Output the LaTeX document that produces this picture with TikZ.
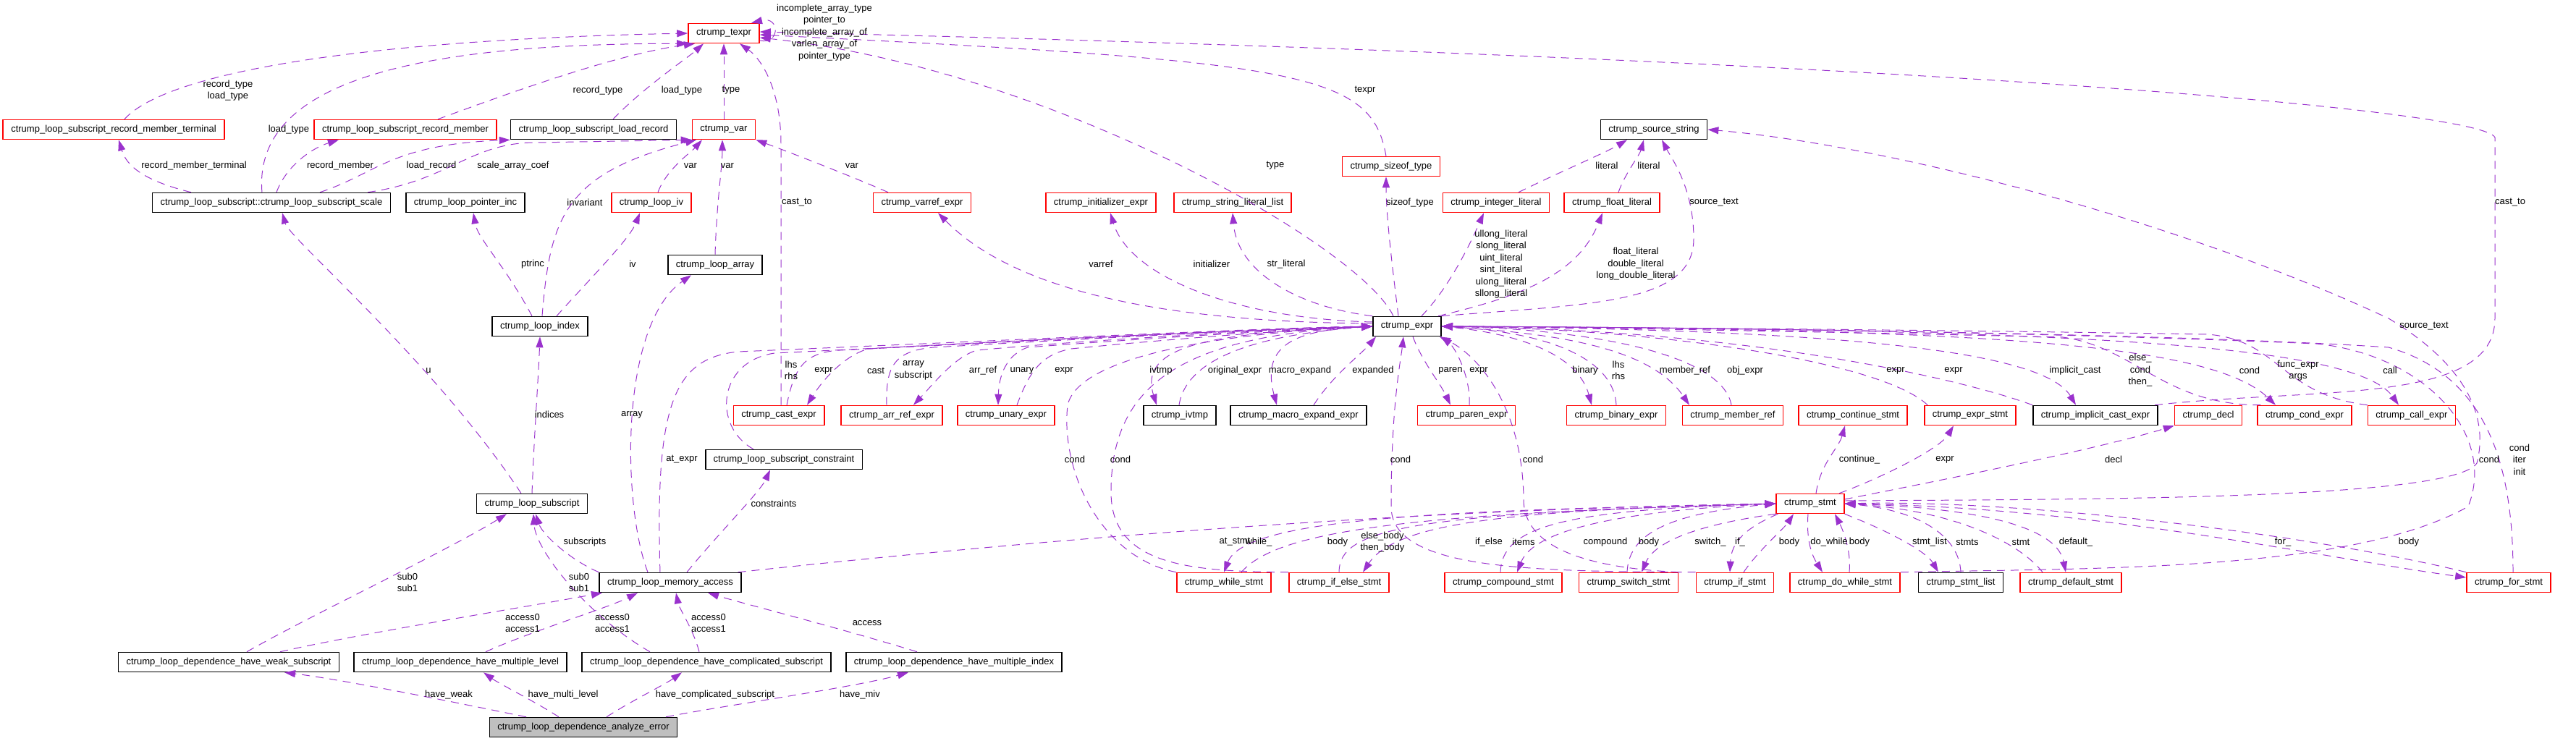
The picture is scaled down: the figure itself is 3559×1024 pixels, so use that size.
\documentclass[tikz,border=0pt]{standalone}
\usepackage{fontspec}
\setmainfont{Liberation Sans}
\usetikzlibrary{arrows.meta}
\definecolor{relcol}{RGB}{154,50,205}
\definecolor{errgray}{RGB}{191,191,191}
\tikzset{
  cls/.style={draw=black,line width=0.45pt,fill=white,minimum height=0.27cm,inner xsep=0.11cm,inner ysep=0pt,font=\fontsize{3.7pt}{4.7pt}\selectfont},
  redcls/.style={cls,draw=red},
  rel/.style={draw=relcol,line width=0.28pt,dash pattern=on 0.11cm off 0.08cm,-{Triangle[length=0.15cm,width=0.1cm]}},
  lbl/.style={inner sep=0pt,align=center,font=\fontsize{3.7pt}{4.7pt}\selectfont}
}
\begin{document}
\begin{tikzpicture}[x=0.01cm,y=-0.01cm]
    \useasboundingbox (0,0) rectangle (3559,1024);

    % classes
    \node[redcls] (texpr) at (1000,46) {ctrump\_texpr};
    \node[redcls] (rmt) at (157,179) {ctrump\_loop\_subscript\_record\_member\_terminal};
    \node[redcls] (rm) at (560,179) {ctrump\_loop\_subscript\_record\_member};
    \node[cls] (lrec) at (820,179) {ctrump\_loop\_subscript\_load\_record};
    \node[redcls] (var) at (1000,179) {ctrump\_var};
    \node[cls] (srcstr) at (2285,179) {ctrump\_source\_string};
    \node[redcls] (sizeof) at (1922,230) {ctrump\_sizeof\_type};
    \node[cls] (scale) at (375,280) {ctrump\_loop\_subscript::ctrump\_loop\_subscript\_scale};
    \node[cls] (ptrinc) at (643,280) {ctrump\_loop\_pointer\_inc};
    \node[redcls] (liv) at (900,280) {ctrump\_loop\_iv};
    \node[redcls] (varref) at (1274,280) {ctrump\_varref\_expr};
    \node[redcls] (init) at (1521,280) {ctrump\_initializer\_expr};
    \node[redcls] (strlit) at (1703,280) {ctrump\_string\_literal\_list};
    \node[redcls] (intlit) at (2067,280) {ctrump\_integer\_literal};
    \node[redcls] (fltlit) at (2227,280) {ctrump\_float\_literal};
    \node[cls] (larr) at (988,366) {ctrump\_loop\_array};
    \node[cls] (lidx) at (746,451) {ctrump\_loop\_index};
    \node[cls] (expr) at (1944,451) {ctrump\_expr};
    \node[redcls] (cast) at (1076,574) {ctrump\_cast\_expr};
    \node[redcls] (arrref) at (1232,574) {ctrump\_arr\_ref\_expr};
    \node[redcls] (unary) at (1390,574) {ctrump\_unary\_expr};
    \node[cls] (ivtmp) at (1630,574) {ctrump\_ivtmp};
    \node[cls] (macro) at (1794,574) {ctrump\_macro\_expand\_expr};
    \node[redcls] (paren) at (2026,574) {ctrump\_paren\_expr};
    \node[redcls] (binary) at (2233,574) {ctrump\_binary\_expr};
    \node[redcls] (mref) at (2394,574) {ctrump\_member\_ref};
    \node[redcls] (cont) at (2560,574) {ctrump\_continue\_stmt};
    \node[redcls] (estmt) at (2722,574) {ctrump\_expr\_stmt};
    \node[cls] (icast) at (2895,574) {ctrump\_implicit\_cast\_expr};
    \node[redcls] (decl) at (3051,574) {ctrump\_decl};
    \node[redcls] (cexpr) at (3184,574) {ctrump\_cond\_expr};
    \node[redcls] (call) at (3332,574) {ctrump\_call\_expr};
    \node[cls] (cons) at (1083,635) {ctrump\_loop\_subscript\_constraint};
    \node[cls] (lsub) at (735,696) {ctrump\_loop\_subscript};
    \node[redcls] (stmt) at (2501,696) {ctrump\_stmt};
    \node[cls] (lma) at (926,805) {ctrump\_loop\_memory\_access};
    \node[redcls] (while) at (1691,805) {ctrump\_while\_stmt};
    \node[redcls] (ifelse) at (1850,805) {ctrump\_if\_else\_stmt};
    \node[redcls] (comp) at (2077,805) {ctrump\_compound\_stmt};
    \node[redcls] (switch) at (2250,805) {ctrump\_switch\_stmt};
    \node[redcls] (ifs) at (2397,805) {ctrump\_if\_stmt};
    \node[redcls] (dowhile) at (2549,805) {ctrump\_do\_while\_stmt};
    \node[cls] (slist) at (2709,805) {ctrump\_stmt\_list};
    \node[redcls] (dflt) at (2861,805) {ctrump\_default\_stmt};
    \node[redcls] (for) at (3466,805) {ctrump\_for\_stmt};
    \node[cls] (weak) at (316,915) {ctrump\_loop\_dependence\_have\_weak\_subscript};
    \node[cls] (mlevel) at (636,915) {ctrump\_loop\_dependence\_have\_multiple\_level};
    \node[cls] (compl) at (976,915) {ctrump\_loop\_dependence\_have\_complicated\_subscript};
    \node[cls] (mindex) at (1318,915) {ctrump\_loop\_dependence\_have\_multiple\_index};
    \node[cls,fill=errgray] (err) at (806,1005) {ctrump\_loop\_dependence\_analyze\_error};

    % into texpr
    \draw[rel] ([xshift=0.15cm]rmt.north) .. controls (230,100) and (500,55) .. (texpr.west);
    \draw[rel] ([xshift=-0.13cm]scale.north) .. controls (350,120) and (550,60) .. (texpr.south west);
    \draw[rel] ([xshift=0.45cm]rm.north) .. controls (700,130) and (850,75) .. ([xshift=-0.4cm]texpr.south);
    \draw[rel] ([xshift=0.27cm]lrec.north) .. controls (890,120) and (950,80) .. ([xshift=-0.28cm]texpr.south);
    \draw[rel] (var.north) -- (texpr.south);
    \draw[rel] ([xshift=0.03cm]cast.north) -- (1079,200) .. controls (1079,120) and (1050,80) .. ([xshift=0.22cm]texpr.south);
    \draw[rel] ([xshift=-0.19cm]expr.north) .. controls (1880,340) and (1450,95) .. ([yshift=-0.06cm]texpr.east);
    \draw[rel] ([yshift=-0.1cm]texpr.east) .. controls (1078,62) and (1078,22) .. ([xshift=0.38cm]texpr.north);
    \draw[rel] ([xshift=-0.07cm]sizeof.north) .. controls (1895,100) and (1800,85) .. ([yshift=-0.02cm]texpr.east);
    \draw[rel] ([xshift=-0.05cm]icast.north east) .. controls (3200,535) and (3447,560) .. (3447,440) -- (3447,190) .. controls (3430,150) and (2600,80) .. ([yshift=0.02cm]texpr.east);

    % into var and load record
    \draw[rel] ([xshift=-0.32cm]scale.north east) .. controls (620,250) and (650,197) .. (740,197) -- (var.south west);
    \draw[rel] ([xshift=0.67cm]scale.north) .. controls (520,240) and (540,200) .. (lrec.south west);
    \draw[rel] ([xshift=0.03cm]lidx.north) .. controls (760,300) and (780,240) .. ([xshift=-0.38cm]var.south);
    \draw[rel] ([xshift=0.09cm]liv.north) .. controls (920,235) and (955,210) .. ([xshift=-0.3cm]var.south);
    \draw[rel] (larr.north) .. controls (990,280) and (998,230) .. ([xshift=-0.02cm]var.south);
    \draw[rel] ([xshift=-0.47cm]varref.north) .. controls (1180,245) and (1090,210) .. (var.south east);

    % loop subscript side
    \draw[rel] ([xshift=-1.11cm]scale.north) .. controls (200,250) and (175,230) .. ([xshift=0.07cm]rmt.south);
    \draw[rel] ([xshift=0.07cm]scale.north) .. controls (395,230) and (430,205) .. ([xshift=-0.92cm]rm.south);
    \draw[rel] ([xshift=-0.15cm]lsub.north) .. controls (600,500) and (400,330) .. ([xshift=0.15cm]scale.south);
    \draw[rel] ([xshift=-0.11cm]lidx.north) .. controls (700,370) and (660,330) .. ([xshift=0.11cm]ptrinc.south);
    \draw[rel] ([xshift=0.23cm]lidx.north) .. controls (820,380) and (870,330) .. ([xshift=-0.16cm]liv.south);
    \draw[rel] (lsub.north) .. controls (738,600) and (744,520) .. (lidx.south);
    \draw[rel] ([xshift=-0.31cm]lma.north) .. controls (860,700) and (855,450) .. ([xshift=-0.33cm]larr.south);
    \draw[rel] ([xshift=0.25cm]weak.north) .. controls (430,850) and (620,760) .. ([xshift=-0.35cm]lsub.south);
    \draw[rel] (lma.north west) .. controls (790,775) and (750,740) .. ([xshift=0.05cm]lsub.south);
    \draw[rel] ([xshift=-0.78cm]compl.north) .. controls (810,850) and (740,760) .. ([xshift=0.02cm]lsub.south);

    % into memory access
    \draw[rel] ([xshift=0.71cm]weak.north) .. controls (500,875) and (720,840) .. ([xshift=-0.94cm]lma.south);
    \draw[rel] ([xshift=0.35cm]mlevel.north) .. controls (740,870) and (840,840) .. ([xshift=-0.45cm]lma.south);
    \draw[rel] ([xshift=-0.1cm]compl.north) .. controls (958,870) and (938,840) .. ([xshift=0.08cm]lma.south);
    \draw[rel] ([xshift=-0.51cm]mindex.north) .. controls (1150,865) and (1030,835) .. ([xshift=0.52cm]lma.south);
    \draw[rel] ([xshift=0.23cm]lma.north) .. controls (990,740) and (1050,680) .. ([xshift=-0.19cm]cons.south);

    % from analyze error
    \draw[rel] ([xshift=-0.79cm]err.north) .. controls (650,975) and (480,940) .. ([xshift=0.77cm]weak.south);
    \draw[rel] ([xshift=-0.34cm]err.north) .. controls (740,970) and (690,945) .. ([xshift=0.32cm]mlevel.south);
    \draw[rel] ([xshift=0.32cm]err.north) .. controls (870,970) and (920,945) .. ([xshift=-0.34cm]compl.south);
    \draw[rel] ([xshift=1.14cm]err.north) .. controls (1000,975) and (1180,950) .. ([xshift=-0.63cm]mindex.south);

    % expr, left side
    \draw[rel] ([xshift=-0.14cm]lma.north) .. controls (905,560) and (930,495) .. (1020,486) .. controls (1400,470) and (1750,453) .. (expr.west);
    \draw[rel] ([xshift=-0.42cm]cons.north) .. controls (985,590) and (990,500) .. (1070,488) .. controls (1400,472) and (1750,453) .. (expr.west);
    \draw[rel] ([xshift=0.11cm]cast.north) .. controls (1097,510) and (1110,487) .. (1160,484) .. controls (1450,470) and (1750,454) .. (expr.west);
    \draw[rel] (expr.west) .. controls (1750,455) and (1400,470) .. (1200,482) .. controls (1170,490) and (1140,520) .. ([xshift=0.39cm]cast.north);
    \draw[rel] ([xshift=-0.07cm]arrref.north) .. controls (1224,510) and (1232,485) .. (1290,480) .. controls (1500,468) and (1750,455) .. (expr.west);
    \draw[rel] (expr.west) .. controls (1750,456) and (1500,470) .. (1350,484) .. controls (1320,492) and (1290,530) .. ([xshift=0.3cm]arrref.north);
    \draw[rel] (expr.west) .. controls (1750,457) and (1550,470) .. (1420,480) .. controls (1390,490) and (1380,520) .. ([xshift=-0.11cm]unary.north);
    \draw[rel] ([xshift=0.15cm]unary.north) .. controls (1420,520) and (1435,490) .. (1480,482) .. controls (1600,470) and (1780,456) .. (expr.west);
    \draw[rel] (while.north west) .. controls (1520,770) and (1465,650) .. (1475,560) .. controls (1490,490) and (1700,460) .. (expr.west);
    \draw[rel] (ifelse.north west) .. controls (1640,790) and (1535,780) .. (1535,680) .. controls (1535,540) and (1620,465) .. (expr.west);
    \draw[rel] (expr.west) .. controls (1700,460) and (1570,470) .. ([xshift=-0.32cm]ivtmp.north);
    \draw[rel] ([xshift=-0.01cm]ivtmp.north) .. controls (1640,490) and (1750,462) .. (expr.west);
    \draw[rel] (expr.west) .. controls (1800,455) and (1740,470) .. ([xshift=-0.3cm]macro.north);
    \draw[rel] ([xshift=0.21cm]macro.north) .. controls (1840,520) and (1880,490) .. ([xshift=0.05cm]expr.south west);

    % expr, below
    \draw[rel] (ifs.north west) .. controls (2100,790) and (1922,785) .. (1922,700) .. controls (1922,560) and (1935,500) .. ([xshift=-0.05cm]expr.south);
    \draw[rel] (switch.north east) .. controls (2200,785) and (2105,760) .. (2105,690) .. controls (2104,560) and (2040,490) .. ([xshift=-0.03cm]expr.south east);
    \draw[rel] ([xshift=0.08cm]expr.south) .. controls (1965,500) and (1990,530) .. ([xshift=-0.22cm]paren.north);
    \draw[rel] ([xshift=0.04cm]paren.north) .. controls (2032,520) and (2010,480) .. ([xshift=-0.01cm]expr.south east);

    % expr, right side
    \draw[rel] (expr.east) .. controls (2100,460) and (2180,490) .. ([xshift=-0.34cm]binary.north);
    \draw[rel] (binary.north) .. controls (2230,500) and (2150,460) .. (expr.east);
    \draw[rel] (expr.east) .. controls (2150,460) and (2280,480) .. ([xshift=-0.6cm]mref.north);
    \draw[rel] ([xshift=-0.02cm]mref.north) .. controls (2380,490) and (2200,455) .. (expr.east);
    \draw[rel] ([xshift=0.05cm]estmt.north west) .. controls (2600,500) and (2300,455) .. (expr.east);
    \draw[rel] (icast.north west) .. controls (2700,520) and (2400,455) .. (expr.east);
    \draw[rel] (expr.east) .. controls (2500,455) and (2820,480) .. ([xshift=-0.27cm]icast.north);
    \draw[rel] ([xshift=0.05cm]cexpr.north west) .. controls (2990,560) and (2950,480) .. (2850,466) .. controls (2500,458) and (2150,452) .. (expr.east);
    \draw[rel] (expr.east) .. controls (2700,455) and (3050,470) .. ([xshift=-0.4cm]cexpr.north);
    \draw[rel] (call.north west) .. controls (3150,545) and (3150,470) .. (3050,462) .. controls (2700,456) and (2200,452) .. (expr.east);
    \draw[rel] (expr.east) .. controls (2800,455) and (3250,470) .. ([xshift=-0.18cm]call.north);
    \draw[rel] ([xshift=0.06cm]for.north) .. controls (3472,650) and (3440,520) .. (3300,480) .. controls (3000,460) and (2300,452) .. (expr.east);
    \draw[rel] (dowhile.north east) .. controls (2900,785) and (3250,790) .. (3410,700) .. controls (3450,600) and (3350,490) .. (3200,475) .. controls (2800,458) and (2300,452) .. (expr.east);

    % expr, above
    \draw[rel] (expr.north east) .. controls (2200,420) and (2340,420) .. (2340,330) .. controls (2340,260) and (2310,220) .. ([xshift=0.11cm]srcstr.south);
    \draw[rel] ([xshift=-0.05cm]expr.north east) .. controls (2100,410) and (2180,380) .. ([xshift=-0.13cm]fltlit.south);
    \draw[rel] ([xshift=0.2cm]expr.north) .. controls (2000,400) and (2030,340) .. ([xshift=-0.17cm]intlit.south);
    \draw[rel] ([xshift=0.31cm]intlit.north) .. controls (2150,240) and (2220,210) .. ([xshift=-0.37cm]srcstr.south);
    \draw[rel] ([xshift=0.09cm]fltlit.north) .. controls (2245,240) and (2265,215) .. ([xshift=-0.14cm]srcstr.south);
    \draw[rel] ([xshift=-0.12cm]expr.north) .. controls (1925,380) and (1915,300) .. ([xshift=-0.07cm]sizeof.south);
    \draw[rel] (expr.north west) .. controls (1800,425) and (1710,380) .. (strlit.south);
    \draw[rel] ([yshift=0.06cm]expr.west) .. controls (1700,440) and (1560,380) .. ([xshift=0.13cm]init.south);
    \draw[rel] ([yshift=0.04cm]expr.west) .. controls (1600,445) and (1400,400) .. ([xshift=0.22cm]varref.south);

    % stmt
    \draw[rel] ([yshift=0.04cm]stmt.east) .. controls (2900,690) and (3390,690) .. (3422,640) .. controls (3440,570) and (3400,500) .. (3300,440) .. controls (3000,300) and (2600,200) .. (srcstr.east);
    \draw[rel] ([xshift=-0.05cm]lma.north east) .. controls (1400,750) and (1900,705) .. (stmt.west);
    \draw[rel] (stmt.west) .. controls (2000,705) and (1720,715) .. (while.north);
    \draw[rel] ([xshift=0.24cm]while.north) .. controls (1760,740) and (1900,710) .. (stmt.west);
    \draw[rel] (ifelse.north) .. controls (1850,730) and (1950,710) .. (stmt.west);
    \draw[rel] (stmt.west) .. controls (2100,705) and (1930,720) .. ([xshift=0.33cm]ifelse.north);
    \draw[rel] ([xshift=-0.04cm]comp.north) .. controls (2075,730) and (2150,705) .. (stmt.west);
    \draw[rel] (stmt.west) .. controls (2250,705) and (2120,730) .. ([xshift=0.19cm]comp.north);
    \draw[rel] ([xshift=-0.02cm]switch.north) .. controls (2250,740) and (2300,710) .. (stmt.west);
    \draw[rel] (stmt.south west) .. controls (2380,720) and (2290,740) .. ([xshift=0.18cm]switch.north);
    \draw[rel] ([xshift=0.03cm]stmt.south west) .. controls (2410,730) and (2392,750) .. ([xshift=-0.07cm]ifs.north);
    \draw[rel] ([xshift=0.12cm]ifs.north) .. controls (2430,760) and (2465,730) .. ([xshift=-0.23cm]stmt.south);
    \draw[rel] ([xshift=-0.03cm]stmt.south) .. controls (2495,750) and (2505,770) .. ([xshift=-0.31cm]dowhile.north);
    \draw[rel] ([xshift=0.06cm]dowhile.north) .. controls (2558,760) and (2545,730) .. ([xshift=0.34cm]stmt.south);
    \draw[rel] (stmt.south east) .. controls (2600,730) and (2660,760) .. ([xshift=-0.31cm]slist.north);
    \draw[rel] (slist.north) .. controls (2707,740) and (2650,705) .. (stmt.east);
    \draw[rel] ([xshift=-0.39cm]dflt.north) .. controls (2790,750) and (2700,705) .. (stmt.east);
    \draw[rel] (stmt.east) .. controls (2700,700) and (2840,720) .. ([xshift=-0.07cm]dflt.north);
    \draw[rel] (stmt.east) .. controls (2900,700) and (3200,770) .. ([yshift=0.07cm]for.west);
    \draw[rel] (for.north west) .. controls (3200,740) and (2800,690) .. (stmt.east);
    \draw[rel] ([xshift=0.08cm]stmt.north) .. controls (2515,640) and (2540,620) .. ([xshift=-0.11cm]cont.south);
    \draw[rel] ([xshift=0.4cm]stmt.north) .. controls (2600,660) and (2680,620) .. ([xshift=-0.23cm]estmt.south);
    \draw[rel] ([yshift=0.06cm]stmt.east) .. controls (2700,660) and (2900,620) .. (decl.south west);

    % member labels
    \node[lbl] (l1) at (315,125) {record\_type\\load\_type};
    \node[lbl] (l2) at (399,179) {load\_type};
    \node[lbl] (l3) at (826,125) {record\_type};
    \node[lbl] (l4) at (942,125) {load\_type};
    \node[lbl] (l5) at (1010,125) {type};
    \node[lbl] (l6) at (1101,280) {cast\_to};
    \node[lbl] (l7) at (1762,229) {type};
    \node[lbl] (l8) at (1139,45) {incomplete\_array\_type\\pointer\_to\\incomplete\_array\_of\\varlen\_array\_of\\pointer\_type};
    \node[lbl] (l9) at (1886,125) {texpr};
    \node[lbl] (l10) at (3468,280) {cast\_to};
    \node[lbl] (l11) at (709,229) {scale\_array\_coef};
    \node[lbl] (l12) at (596,229) {load\_record};
    \node[lbl] (l13) at (808,280) {invariant};
    \node[lbl] (l14) at (954,229) {var};
    \node[lbl] (l15) at (1005,229) {var};
    \node[lbl] (l16) at (1177,229) {var};
    \node[lbl] (l17) at (268,229) {record\_member\_terminal};
    \node[lbl] (l18) at (470,229) {record\_member};
    \node[lbl] (l19) at (592,512) {u};
    \node[lbl] (l20) at (736,365) {ptrinc};
    \node[lbl] (l21) at (874,365) {iv};
    \node[lbl] (l22) at (759,573) {indices};
    \node[lbl] (l23) at (873,573) {array};
    \node[lbl] (l24) at (563,805) {sub0\\sub1};
    \node[lbl] (l25) at (808,749) {subscripts};
    \node[lbl] (l26) at (800,805) {sub0\\sub1};
    \node[lbl] (l27) at (722,861) {access0\\access1};
    \node[lbl] (l28) at (846,861) {access0\\access1};
    \node[lbl] (l29) at (979,861) {access0\\access1};
    \node[lbl] (l30) at (1198,861) {access};
    \node[lbl] (l31) at (1069,696) {constraints};
    \node[lbl] (l32) at (620,960) {have\_weak};
    \node[lbl] (l33) at (778,960) {have\_multi\_level};
    \node[lbl] (l34) at (988,960) {have\_complicated\_subscript};
    \node[lbl] (l35) at (1188,960) {have\_miv};
    \node[lbl] (l36) at (942,635) {at\_expr};
    \node[lbl] (l37) at (1093,512) {lhs\\rhs};
    \node[lbl] (l38) at (1138,512) {expr};
    \node[lbl] (l39) at (1210,512) {cast};
    \node[lbl] (l40) at (1262,512) {array\\subscript};
    \node[lbl] (l41) at (1358,512) {arr\_ref};
    \node[lbl] (l42) at (1412,512) {unary};
    \node[lbl] (l43) at (1470,512) {expr};
    \node[lbl] (l44) at (1485,635) {cond};
    \node[lbl] (l45) at (1548,635) {cond};
    \node[lbl] (l46) at (1604,512) {ivtmp};
    \node[lbl] (l47) at (1706,512) {original\_expr};
    \node[lbl] (l48) at (1796,512) {macro\_expand};
    \node[lbl] (l49) at (1897,512) {expanded};
    \node[lbl] (l50) at (2004,512) {paren};
    \node[lbl] (l51) at (2043,512) {expr};
    \node[lbl] (l52) at (1935,635) {cond};
    \node[lbl] (l53) at (2118,635) {cond};
    \node[lbl] (l54) at (2190,512) {binary};
    \node[lbl] (l55) at (2236,512) {lhs\\rhs};
    \node[lbl] (l56) at (2328,512) {member\_ref};
    \node[lbl] (l57) at (2411,512) {obj\_expr};
    \node[lbl] (l58) at (2619,512) {expr};
    \node[lbl] (l59) at (2699,512) {expr};
    \node[lbl] (l60) at (2867,512) {implicit\_cast};
    \node[lbl] (l61) at (2957,512) {else\_\\cond\\then\_};
    \node[lbl] (l62) at (3108,512) {cond};
    \node[lbl] (l63) at (3175,512) {func\_expr\\args};
    \node[lbl] (l64) at (3302,512) {call};
    \node[lbl] (l65) at (3481,635) {cond\\iter\\init};
    \node[lbl] (l66) at (3439,635) {cond};
    \node[lbl] (l67) at (3349,451) {source\_text};
    \node[lbl] (l68) at (2368,280) {source\_text};
    \node[lbl] (l69) at (2074,365) {ullong\_literal\\slong\_literal\\uint\_literal\\sint\_literal\\ulong\_literal\\sllong\_literal};
    \node[lbl] (l70) at (2260,365) {float\_literal\\double\_literal\\long\_double\_literal};
    \node[lbl] (l71) at (2220,229) {literal};
    \node[lbl] (l72) at (2278,229) {literal};
    \node[lbl] (l73) at (1948,280) {sizeof\_type};
    \node[lbl] (l74) at (1777,365) {str\_literal};
    \node[lbl] (l75) at (1674,365) {initializer};
    \node[lbl] (l76) at (1521,365) {varref};
    \node[lbl] (l77) at (2569,635) {continue\_};
    \node[lbl] (l78) at (2687,635) {expr};
    \node[lbl] (l79) at (2920,635) {decl};
    \node[lbl] (l80) at (1706,749) {at\_stmt};
    \node[lbl] (l81) at (1739,749) {while\_};
    \node[lbl] (l82) at (1848,749) {body};
    \node[lbl] (l83) at (1910,749) {else\_body\\then\_body};
    \node[lbl] (l84) at (2057,749) {if\_else};
    \node[lbl] (l85) at (2105,749) {items};
    \node[lbl] (l86) at (2218,749) {compound};
    \node[lbl] (l87) at (2278,749) {body};
    \node[lbl] (l88) at (2363,749) {switch\_};
    \node[lbl] (l89) at (2404,749) {if\_};
    \node[lbl] (l90) at (2472,749) {body};
    \node[lbl] (l91) at (2527,749) {do\_while};
    \node[lbl] (l92) at (2569,749) {body};
    \node[lbl] (l93) at (2666,749) {stmt\_list};
    \node[lbl] (l94) at (2718,749) {stmts};
    \node[lbl] (l95) at (2792,749) {stmt};
    \node[lbl] (l96) at (2868,749) {default\_};
    \node[lbl] (l97) at (3154,749) {for\_};
    \node[lbl] (l98) at (3328,749) {body};

\end{tikzpicture}
\end{document}
